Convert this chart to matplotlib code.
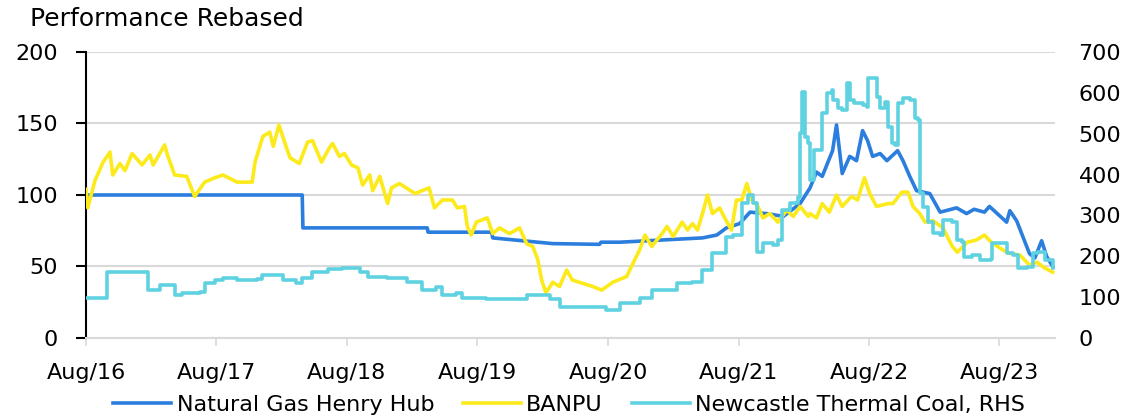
import matplotlib
matplotlib.use('Agg')
import matplotlib.pyplot as plt
import matplotlib.dates as mdates
import pandas as pd

# ---- data ----
gas_dates = ['2016-08-01', '2018-03-29', '2018-03-31', '2019-03-14', '2019-03-16', '2019-09-10',
             '2019-09-13', '2020-02-28', '2020-07-08', '2020-07-12', '2020-09-03', '2021-04-22',
             '2021-06-01', '2021-06-28', '2021-08-04', '2021-09-02', '2021-10-19', '2021-12-04',
             '2022-01-20', '2022-02-17', '2022-03-07', '2022-03-23', '2022-04-21', '2022-05-02',
             '2022-05-18', '2022-06-08', '2022-06-27', '2022-07-14', '2022-07-28', '2022-08-11',
             '2022-09-01', '2022-09-20', '2022-10-20', '2022-11-04', '2022-11-23', '2022-12-12',
             '2023-01-18', '2023-02-16', '2023-04-03', '2023-05-01', '2023-05-22', '2023-06-20',
             '2023-07-04', '2023-08-21', '2023-08-30', '2023-09-18', '2023-10-24', '2023-11-08',
             '2023-11-27', '2023-12-11', '2023-12-28']
gas_vals = [100, 100, 77, 77, 74, 74,
            70, 66, 65.5, 67, 67, 70,
            72, 77, 80, 88, 87, 85,
            94, 105, 116, 113, 131, 149,
            115, 127, 124, 145, 138, 127,
            129, 124, 131, 124, 113, 103,
            101, 88, 91, 87, 90, 88,
            92, 81, 89, 82, 59, 56,
            68, 57, 50]

banpu_dates = ['2016-08-01', '2016-08-06', '2016-08-26', '2016-09-18', '2016-10-07', '2016-10-15',
               '2016-11-04', '2016-11-18', '2016-12-08', '2017-01-05', '2017-01-27', '2017-02-05',
               '2017-03-09', '2017-03-17', '2017-04-06', '2017-05-10', '2017-06-01', '2017-06-29',
               '2017-07-27', '2017-08-19', '2017-09-28', '2017-11-09', '2017-11-17', '2017-12-09',
               '2017-12-28', '2018-01-07', '2018-01-23', '2018-02-09', '2018-02-23', '2018-03-21',
               '2018-04-13', '2018-04-27', '2018-05-22', '2018-06-13', '2018-06-22', '2018-07-11',
               '2018-07-25', '2018-08-14', '2018-09-01', '2018-09-14', '2018-10-04', '2018-10-12',
               '2018-11-01', '2018-11-23', '2018-12-04', '2018-12-26', '2019-02-08', '2019-03-19',
               '2019-04-03', '2019-04-25', '2019-05-23', '2019-06-06', '2019-06-26', '2019-07-04',
               '2019-07-15', '2019-07-29', '2019-08-29', '2019-09-13', '2019-10-02', '2019-10-30',
               '2019-11-27', '2019-12-17', '2020-01-03', '2020-01-17', '2020-01-28', '2020-02-09',
               '2020-02-28', '2020-03-18', '2020-04-07', '2020-04-23', '2020-06-19', '2020-07-14',
               '2020-08-14', '2020-09-22', '2020-10-09', '2020-10-28', '2020-11-12', '2020-12-01',
               '2021-01-02', '2021-01-13', '2021-01-30', '2021-02-24', '2021-03-11', '2021-03-25',
               '2021-04-08', '2021-04-22', '2021-05-06', '2021-05-20', '2021-06-09', '2021-06-23',
               '2021-07-12', '2021-07-26', '2021-08-10', '2021-08-24', '2021-09-07', '2021-09-24',
               '2021-10-08', '2021-10-27', '2021-11-19', '2021-12-14', '2022-01-01', '2022-01-20',
               '2022-02-12', '2022-02-17', '2022-03-07', '2022-03-23', '2022-04-12', '2022-05-02',
               '2022-05-18', '2022-06-13', '2022-06-30', '2022-07-19', '2022-08-03', '2022-08-22',
               '2022-09-23', '2022-10-07', '2022-11-01', '2022-11-18', '2022-12-02', '2022-12-21',
               '2023-01-05', '2023-01-27', '2023-02-24', '2023-03-22', '2023-04-05', '2023-05-03',
               '2023-05-28', '2023-06-20', '2023-07-09', '2023-08-02', '2023-08-24', '2023-09-27',
               '2023-10-24', '2023-11-14', '2023-12-05', '2023-12-28']
banpu_vals = [104, 91, 110, 123, 130, 114,
              122, 117, 129, 121, 128, 121,
              135, 128, 114, 113, 99, 109,
              112, 114, 109, 109, 123, 141,
              144, 134, 149, 136, 126, 122,
              137, 138, 123, 133, 136, 127,
              129, 121, 119, 107, 114, 103,
              113, 94, 105, 108, 101, 105,
              91, 96.5, 96.5, 91, 92, 78,
              72, 81, 84, 73, 77, 73,
              77, 66, 64, 55, 40.5, 31.5,
              39, 36, 47.5, 40.5, 36, 33.5,
              39, 43, 52, 61.5, 72, 64,
              74, 78, 71, 81, 75.5, 80,
              75.5, 87, 100, 87, 91, 84,
              75.5, 96.5, 96.5, 108, 96.5, 92,
              84, 87, 81, 89.5, 85, 92,
              85, 87, 84, 94, 88, 100,
              92, 99, 96.5, 112, 101, 92,
              94, 94, 102, 102, 92, 87,
              81, 82, 77, 64, 60, 67,
              68.5, 72, 67, 63, 59.5, 58,
              51, 53, 49, 46]

coal_dates = ['2016-08-01', '2016-09-29', '2017-01-22', '2017-02-24', '2017-04-06', '2017-04-28',
              '2017-06-15', '2017-06-29', '2017-07-27', '2017-08-19', '2017-09-28', '2017-11-23',
              '2017-12-06', '2018-02-04', '2018-03-13', '2018-03-29', '2018-04-24', '2018-06-08',
              '2018-07-19', '2018-09-06', '2018-09-28', '2018-11-20', '2019-01-16', '2019-02-28',
              '2019-04-08', '2019-04-25', '2019-06-03', '2019-06-20', '2019-08-26', '2019-12-17',
              '2020-02-20', '2020-03-18', '2020-07-27', '2020-09-03', '2020-10-28', '2020-12-01',
              '2021-02-10', '2021-03-25', '2021-04-22', '2021-05-20', '2021-06-28', '2021-07-15',
              '2021-08-10', '2021-08-26', '2021-09-10', '2021-09-21', '2021-10-08', '2021-11-05',
              '2021-11-19', '2021-12-01', '2021-12-22', '2022-01-15', '2022-01-20', '2022-01-26',
              '2022-02-03', '2022-02-12', '2022-02-17', '2022-03-01', '2022-03-23', '2022-04-04',
              '2022-04-18', '2022-04-21', '2022-05-05', '2022-05-18', '2022-05-30', '2022-06-08',
              '2022-06-21', '2022-07-14', '2022-07-25', '2022-07-28', '2022-08-22', '2022-09-01',
              '2022-09-14', '2022-09-23', '2022-10-04', '2022-10-12', '2022-10-20', '2022-11-04',
              '2022-11-23', '2022-12-07', '2022-12-15', '2022-12-21', '2022-12-29', '2023-01-13',
              '2023-01-27', '2023-02-16', '2023-02-24', '2023-03-22', '2023-04-03', '2023-04-19',
              '2023-04-25', '2023-05-17', '2023-06-07', '2023-07-09', '2023-07-12', '2023-08-21',
              '2023-09-07', '2023-09-21', '2023-10-16', '2023-11-02', '2023-11-16', '2023-12-05',
              '2023-12-28']
coal_vals = [98, 161, 117, 130, 105, 110,
             113, 135, 142, 147, 142, 144,
             154, 142, 135, 147, 161, 169,
             171, 161, 149, 147, 137, 117,
             125, 105, 110, 98, 95, 105,
             95, 76, 69, 86, 98, 117,
             135, 137, 166, 208, 247, 252,
             330, 350, 330, 210, 232, 228,
             240, 313, 330, 345, 502, 602,
             492, 477, 387, 460, 550, 599,
             607, 582, 562, 558, 624, 582,
             575, 570, 565, 636, 590, 562,
             577, 516, 477, 472, 575, 587,
             582, 538, 533, 355, 321, 284,
             257, 252, 289, 284, 240, 235,
             198, 203, 191, 193, 232, 208,
             203, 171, 174, 208, 210, 191,
             171]

tick_years = [2016, 2017, 2018, 2019, 2020, 2021, 2022, 2023]

C_GAS, C_BANPU, C_COAL = '#2B7DDE', '#FCEA1A', '#5FD2E1'

plt.rcParams.update({'font.family': 'DejaVu Sans', 'font.size': 16})

fig = plt.figure(figsize=(11.27, 4.18), dpi=100)
ax = fig.add_axes([0.0763, 0.1914, 0.8597, 0.6842])
ax2 = ax.twinx()

l1, = ax.plot(pd.to_datetime(gas_dates), gas_vals, color=C_GAS, lw=2.6, zorder=3,
              label='Natural Gas Henry Hub')
l2, = ax.plot(pd.to_datetime(banpu_dates), banpu_vals, color=C_BANPU, lw=2.6, zorder=4,
              label='BANPU')
l3, = ax2.plot(pd.to_datetime(coal_dates), coal_vals, color=C_COAL, lw=2.6,
               drawstyle='steps-post', label='Newcastle Thermal Coal, RHS')

ax.set_ylim(0, 200)
ax.set_yticks([0, 50, 100, 150, 200])
ax2.set_ylim(0, 700)
ax2.set_yticks(range(0, 701, 100))
ax.set_xlim(pd.Timestamp('2016-08-01'), pd.Timestamp('2024-01-03'))
ax.set_xticks([pd.Timestamp(f'{y}-08-01') for y in tick_years])
ax.xaxis.set_major_formatter(mdates.DateFormatter('%b/%y'))

ax.grid(axis='y', color='#D9D9D9', lw=1.5)
ax.set_axisbelow(True)
for s in ['top', 'right']:
    ax.spines[s].set_visible(False)
for s in ['top', 'right', 'left', 'bottom']:
    ax2.spines[s].set_visible(False)
ax.spines['left'].set_color('black')
ax.spines['left'].set_linewidth(1.5)
ax.spines['bottom'].set_color('#D9D9D9')
ax.spines['bottom'].set_linewidth(1.5)
ax.tick_params(axis='y', length=7, width=1.5, color='black', pad=13)
ax.tick_params(axis='x', length=6, width=1.2, color='#D9D9D9', pad=12)
ax2.tick_params(axis='y', length=0, pad=17)

fig.text(0.027, 0.955, 'Performance Rebased', fontsize=18, va='center', ha='left')
fig.legend(handles=[l1, l2, l3], loc='lower center', bbox_to_anchor=(0.505, -0.04), ncol=3,
           frameon=False, handlelength=2.6, handletextpad=0.25, columnspacing=1.3)

fig.savefig('out.png', dpi=100)
